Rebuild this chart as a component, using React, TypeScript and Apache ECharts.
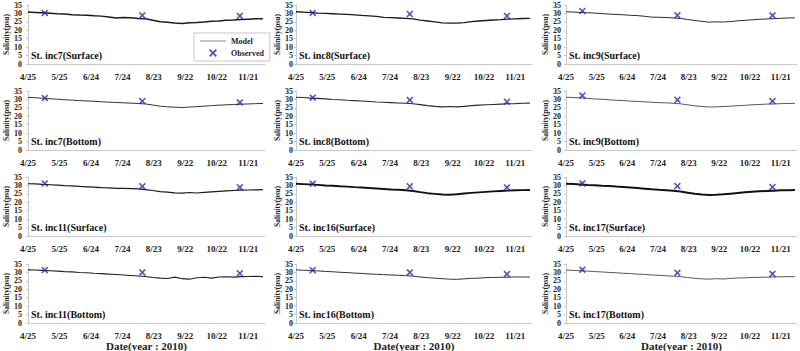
import React, { useEffect, useRef } from "react";
import * as echarts from "echarts";

// Days since 4/25/2010 for model samples
const DAYS = [0, 7, 14, 21, 28, 35, 42, 49, 56, 63, 70, 77, 84, 91, 98, 105, 112, 119, 126, 133, 140, 147, 154, 161, 168, 175, 182, 189, 196, 203, 210, 217, 224];
const OBS_DAYS = [16, 109, 202];
const TICK_LABELS = ["4/25", "5/25", "6/24", "7/24", "8/23", "9/22", "10/22", "11/21"];
const STATIONS = [
  "St. inc7(Surface)", "St. inc8(Surface)", "St. inc9(Surface)",
  "St. inc7(Bottom)", "St. inc8(Bottom)", "St. inc9(Bottom)",
  "St. inc11(Surface)", "St. inc16(Surface)", "St. inc17(Surface)",
  "St. inc11(Bottom)", "St. inc16(Bottom)", "St. inc17(Bottom)",
];

const inc7S = [30.8, 30.6, 30.4, 30.1, 29.8, 29.6, 29.2, 29.0, 28.9, 28.6, 28.4, 27.9, 27.3, 27.6, 27.4, 27.0, 26.9, 26.0, 25.1, 24.8, 24.3, 24.0, 24.4, 24.6, 24.9, 25.3, 25.5, 25.9, 26.1, 26.4, 26.6, 26.8, 26.9];
const inc8S = [31.0, 30.8, 30.5, 30.2, 30.0, 29.8, 29.6, 29.4, 29.1, 28.8, 28.6, 28.2, 27.6, 27.5, 27.3, 27.1, 26.8, 26.0, 25.5, 25.0, 24.4, 24.3, 24.2, 24.6, 25.1, 25.5, 25.8, 26.1, 26.3, 26.6, 26.8, 27.0, 27.1];
const inc9S = [31.0, 30.8, 30.6, 30.4, 30.2, 29.9, 29.6, 29.4, 29.2, 28.9, 28.7, 28.3, 27.8, 27.7, 27.6, 27.3, 27.0, 26.4, 25.8, 25.3, 24.8, 25.0, 24.9, 25.2, 25.6, 25.9, 26.2, 26.5, 26.7, 26.9, 27.1, 27.3, 27.4];
const inc7B = [31.2, 31.0, 30.7, 30.4, 30.1, 29.8, 29.6, 29.3, 29.1, 28.9, 28.6, 28.4, 28.2, 28.0, 27.8, 27.6, 27.3, 26.7, 26.0, 25.6, 25.4, 25.2, 25.5, 25.7, 26.0, 26.3, 26.6, 26.8, 27.0, 27.2, 27.3, 27.5, 27.6];
const inc8B = [31.3, 31.1, 30.8, 30.6, 30.3, 30.0, 29.8, 29.5, 29.3, 29.1, 28.8, 28.5, 28.3, 28.1, 27.9, 27.7, 27.4, 26.9, 26.3, 25.9, 25.6, 25.8, 25.6, 25.9, 26.3, 26.6, 26.8, 27.0, 27.2, 27.4, 27.5, 27.7, 27.8];
const inc9B = [31.3, 31.1, 30.9, 30.6, 30.3, 30.1, 29.8, 29.5, 29.3, 29.0, 28.8, 28.6, 28.3, 28.1, 28.0, 27.7, 27.4, 26.8, 26.2, 25.8, 25.5, 25.6, 25.8, 26.0, 26.3, 26.5, 26.8, 27.0, 27.2, 27.3, 27.5, 27.6, 27.7];
const inc11S = [31.0, 30.9, 30.6, 30.4, 30.2, 29.9, 29.7, 29.4, 29.2, 29.0, 28.7, 28.5, 28.2, 28.3, 28.1, 27.9, 27.5, 27.0, 26.3, 26.0, 25.6, 25.4, 25.8, 25.5, 25.9, 26.2, 26.5, 26.8, 27.0, 27.2, 27.3, 27.4, 27.5];
const inc16S = [31.0, 30.8, 30.6, 30.3, 30.0, 29.8, 29.5, 29.3, 29.0, 28.8, 28.5, 28.2, 27.9, 27.6, 27.4, 27.1, 26.7, 26.0, 25.4, 25.0, 24.6, 24.5, 24.8, 25.2, 25.6, 25.9, 26.2, 26.5, 26.7, 26.9, 27.1, 27.2, 27.3];
const inc17S = [31.0, 30.8, 30.6, 30.3, 30.1, 29.8, 29.6, 29.3, 29.1, 28.8, 28.5, 28.1, 27.7, 27.4, 27.2, 26.9, 26.4, 25.7, 25.0, 24.6, 24.3, 24.4, 24.7, 25.1, 25.5, 25.9, 26.2, 26.5, 26.7, 26.9, 27.1, 27.2, 27.3];
const inc11B = [31.5, 31.4, 31.2, 31.0, 30.8, 30.5, 30.3, 30.0, 29.8, 29.5, 29.3, 29.0, 28.8, 28.5, 28.2, 27.9, 27.6, 27.0, 26.6, 26.4, 27.2, 26.3, 26.0, 26.8, 27.1, 26.6, 27.3, 27.4, 27.2, 27.5, 27.6, 27.7, 27.5];
const inc16B = [31.5, 31.3, 31.1, 30.9, 30.6, 30.4, 30.1, 29.9, 29.6, 29.4, 29.1, 28.9, 28.7, 28.5, 28.3, 28.1, 27.8, 27.3, 26.9, 26.6, 26.3, 26.0, 25.9, 26.2, 26.5, 26.6, 26.9, 27.0, 27.1, 27.2, 27.3, 27.3, 27.2];
const inc17B = [31.4, 31.2, 31.0, 30.8, 30.5, 30.3, 30.0, 29.8, 29.5, 29.3, 29.0, 28.8, 28.5, 28.3, 28.0, 27.8, 27.5, 27.0, 26.5, 26.2, 26.0, 26.3, 26.1, 26.4, 26.7, 26.8, 27.0, 27.1, 27.2, 27.3, 27.4, 27.5, 27.5];

const obs7S = [30.3, 28.8, 28.5];
const obs8S = [30.3, 29.6, 28.5];
const obs9S = [31.4, 28.9, 28.8];
const obs7B = [30.8, 29.0, 28.2];
const obs8B = [31.0, 29.6, 28.6];
const obs9B = [32.3, 29.8, 29.0];
const obs11S = [31.2, 29.5, 28.9];
const obs16S = [31.0, 29.5, 28.8];
const obs17S = [31.2, 29.6, 29.0];
const obs11B = [31.4, 30.0, 29.5];
const obs16B = [31.3, 30.0, 29.0];
const obs17B = [31.6, 29.8, 29.1];

const MODEL = [inc7S, inc8S, inc9S, inc7B, inc8B, inc9B, inc11S, inc16S, inc17S, inc11B, inc16B, inc17B];
const OBS = [obs7S, obs8S, obs9S, obs7B, obs8B, obs9B, obs11S, obs16S, obs17S, obs11B, obs16B, obs17B];

export default function App() {
  const ref = useRef<HTMLDivElement>(null);
  useEffect(() => {
    document.body.style.margin = "0";
    const chart = echarts.init(ref.current!, null, { renderer: "svg" });
    const FONT = "Liberation Serif";
    const colLeft = [28, 296, 566];
    const colWidth = [237, 236, 231];
    const labelMargin = [6, 3, 5];
    const nameGap = [18, 15, 14];
    const rowTop = [5, 91, 177, 264];
    const H = 59;
    const lineW = [1.5, 1.3, 1.0, 1.0, 1.1, 0.9, 1.2, 1.9, 2.0, 1.1, 1.0, 0.9];
    const lineC = ["#1a1a1a", "#1a1a1a", "#2a2a2a", "#333", "#2a2a2a", "#444", "#1a1a1a", "#111", "#111", "#222", "#333", "#444"];
    const XSYM = "path://M0,1.6 L1.6,0 L5,3.4 L8.4,0 L10,1.6 L6.6,5 L10,8.4 L8.4,10 L5,6.6 L1.6,10 L0,8.4 L3.4,5 Z";

    const grid: any[] = [];
    const xAxis: any[] = [];
    const yAxis: any[] = [];
    const series: any[] = [];
    const graphic: any[] = [];
    for (let r = 0; r < 4; r++) {
      for (let c = 0; c < 3; c++) {
        const i = r * 3 + c;
        grid.push({ left: colLeft[c], top: rowTop[r], width: colWidth[c], height: H });
        xAxis.push({
          type: "value", gridIndex: i, min: 0, max: 226, interval: 30,
          axisLine: { show: true, lineStyle: { color: "#c8c8c8", width: 1 } },
          axisTick: { show: false },
          splitLine: { show: false },
          axisLabel: {
            showMinLabel: true, showMaxLabel: false, margin: 8, fontSize: 9, fontWeight: "bold", fontFamily: FONT, color: "#222",
            formatter: (v: number) => (v % 30 === 0 ? TICK_LABELS[v / 30] ?? "" : ""),
          },
        });
        yAxis.push({
          type: "value", gridIndex: i, min: 0, max: 35, interval: 5,
          name: "Salinity(psu)", nameLocation: "middle", nameRotate: 90, nameGap: nameGap[c],
          nameTextStyle: { fontSize: 7.5, fontWeight: "bold", fontFamily: FONT, color: "#222" },
          axisLine: { show: true, lineStyle: { color: "#c8c8c8", width: 1 } },
          axisTick: { show: true, length: 2, lineStyle: { color: "#c8c8c8" } },
          splitLine: { show: false },
          axisLabel: {
            showMinLabel: true, showMaxLabel: true, hideOverlap: false,
            margin: labelMargin[c], fontSize: 8, lineHeight: 8, fontWeight: "bold", fontFamily: FONT, color: "#222",
          },
        });
        series.push({
          type: "line", name: "Model", xAxisIndex: i, yAxisIndex: i, symbol: "none", showSymbol: false,
          data: DAYS.map((d, k) => [d, MODEL[i][k]]),
          lineStyle: { color: lineC[i], width: lineW[i] }, itemStyle: { color: "#888" },
        });
        series.push({
          type: "scatter", name: "Observed", xAxisIndex: i, yAxisIndex: i, symbol: XSYM, symbolSize: 7,
          data: OBS_DAYS.map((d, k) => [d, OBS[i][k]]),
          itemStyle: { color: "#2626b0" }, z: 5,
        });
        graphic.push({
          type: "text", left: colLeft[c] + 3, top: rowTop[r] + H - 14,
          style: { text: STATIONS[i], font: `bold 10px "${FONT}"`, fill: "#111" },
        });
      }
    }
    for (let c = 0; c < 3; c++) {
      graphic.push({
        type: "text", x: colLeft[c] + colWidth[c] / 2, y: 346,
        style: { text: "Date(year : 2010)", font: `bold 11px "${FONT}"`, fill: "#222", align: "center", verticalAlign: "middle" },
      });
    }

    chart.setOption({
      animation: false,
      backgroundColor: "#fff",
      grid, xAxis, yAxis, series, graphic,
      legend: {
        orient: "vertical", left: 194, top: 33,
        borderColor: "#c8c8c8", borderWidth: 1, padding: [4, 6, 4, 6], itemGap: 4,
        itemWidth: 26, itemHeight: 8,
        textStyle: { fontSize: 8, fontWeight: "bold", fontFamily: FONT, color: "#222" },
        data: [
          { name: "Model", icon: "path://M0,4.5 L26,4.5 L26,5.5 L0,5.5 Z", itemStyle: { color: "#888" } },
          { name: "Observed", icon: XSYM, itemStyle: { color: "#2626b0" } },
        ],
        selectedMode: false,
      },
    });
    return () => chart.dispose();
  }, []);
  return <div ref={ref} style={{ width: 800, height: 351 }} />;
}
